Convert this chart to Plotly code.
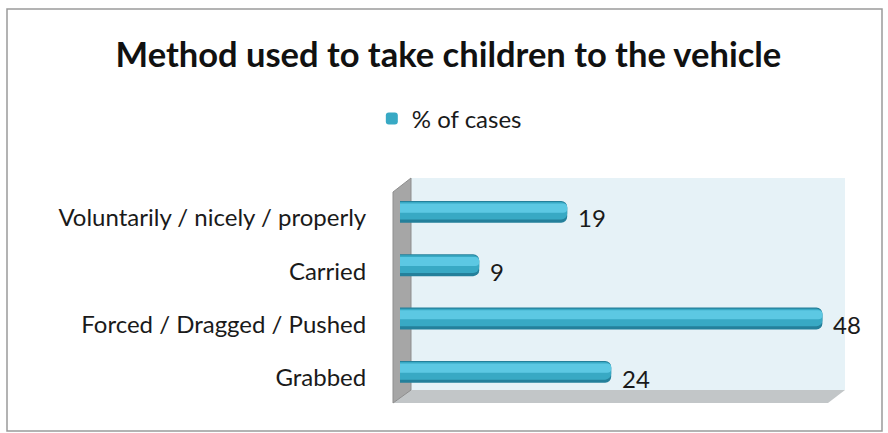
import plotly.graph_objects as go

# Chart data
categories = ["Voluntarily / nicely / properly", "Carried", "Forced / Dragged / Pushed", "Grabbed"]
values = [19, 9, 48, 24]
series_name = "% of cases"
title_text = "Method used to take children to the vehicle"

W, H = 888, 433


def px(x):
    return x / W


def py(y):
    return 1 - y / H


FONT = "Lato, 'Open Sans', sans-serif"

fig = go.Figure()

# Cylinder look: a dark base bar with lighter bands layered on top
layers = [
    # (offset, width, color, show in legend)
    (-0.32, 0.41, "#24809b", False),
    (-0.30, 0.33, "#38a9c4", True),
    (-0.27, 0.17, "#5cc8e3", False),
]
for off, wid, col, show in layers:
    fig.add_trace(go.Bar(
        x=values, y=categories, orientation="h",
        name=series_name, showlegend=show,
        offset=off, width=wid,
        marker=dict(color=col, cornerradius=6,
                    line=dict(width=0)),
        hoverinfo="skip" if not show else None,
    ))

# value labels to the right of each bar
for c, v in zip(categories, values):
    fig.add_annotation(x=v, y=c, text=str(v), showarrow=False,
                       xanchor="left", xshift=9, yshift=0,
                       font=dict(family=FONT, size=24, color="#1a1a1a"))

shapes = []
# outer frame
shapes.append(dict(type="rect", xref="paper", yref="paper",
                   x0=px(7), x1=px(882), y0=py(431), y1=py(9),
                   line=dict(color="#9a9a9a", width=1.5), layer="below"))
# back wall
shapes.append(dict(type="rect", xref="paper", yref="paper",
                   x0=px(410), x1=px(845), y0=py(390), y1=py(178),
                   fillcolor="#e6f2f7", line=dict(width=0), layer="below"))
# floor
shapes.append(dict(type="path", xref="paper", yref="paper",
                   path=f"M {px(410)},{py(390)} L {px(845)},{py(390)} L {px(828)},{py(403)} L {px(393)},{py(403)} Z",
                   fillcolor="#c2c6c8", line=dict(width=0), layer="below"))
# side wall
shapes.append(dict(type="path", xref="paper", yref="paper",
                   path=f"M {px(393)},{py(192)} L {px(411)},{py(178)} L {px(411)},{py(390)} L {px(393)},{py(403)} Z",
                   fillcolor="#a6a6a6", line=dict(color="#8e8e8e", width=1), layer="below"))

fig.update_layout(
    width=W, height=H,
    margin=dict(l=0, r=0, t=0, b=0),
    paper_bgcolor="white", plot_bgcolor="rgba(0,0,0,0)",
    barmode="overlay",
    title=dict(text=f"<b>{title_text}</b>", x=0.505, xanchor="center",
               y=py(55), yanchor="middle",
               font=dict(family=FONT, size=34.5, color="#111111")),
    legend=dict(orientation="h", x=0.506, xanchor="center", y=py(119), yanchor="middle",
                font=dict(family=FONT, size=24, color="#1a1a1a"),
                itemwidth=30, bgcolor="rgba(0,0,0,0)"),
    shapes=shapes,
    xaxis=dict(domain=[px(400), px(840)], range=[0, 50], visible=False, fixedrange=True),
    yaxis=dict(domain=[py(404.7), py(191.3)], autorange="reversed",
               ticks="outside", ticklen=28, tickcolor="rgba(0,0,0,0)",
               showgrid=False, showline=False, zeroline=False,
               tickfont=dict(family=FONT, size=24, color="#1a1a1a")),
    showlegend=True,
)

fig.write_html("out.html")
